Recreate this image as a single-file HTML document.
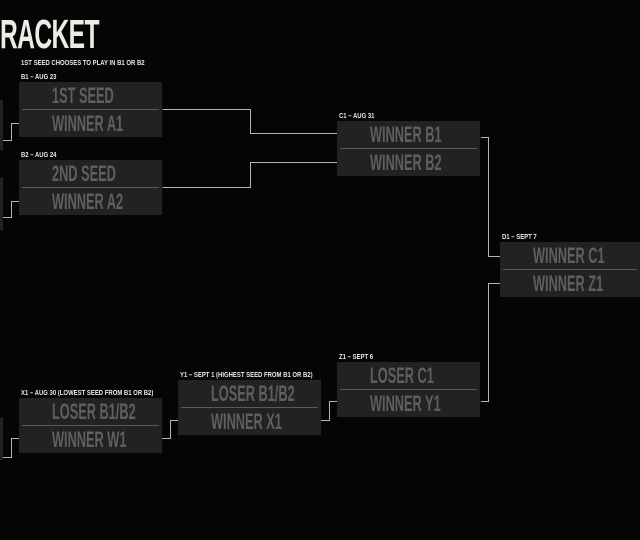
<!DOCTYPE html>
<html><head><style>
body{margin:0;background:#050505;width:640px;height:540px;overflow:hidden;position:relative;font-family:"Liberation Sans Narrow","Liberation Sans",sans-serif}
.t{position:absolute;left:0;top:11px;color:#eeeae4;font-weight:bold;font-size:41px;transform:scaleX(0.6);transform-origin:left;letter-spacing:-1px}
.lbl{position:absolute;color:#e8e8e8;font-size:7px;font-weight:bold;white-space:nowrap;transform:scaleX(0.85);transform-origin:left}
.box{position:absolute;width:143px;height:55px;background:#222}
.box div{height:27px;line-height:27px;color:#5f5f5f;font-weight:bold;font-size:22px;padding-left:33px;white-space:nowrap}
.box div span{display:inline-block;transform:scaleX(0.58);transform-origin:left}
.box div:first-child{border-bottom:1px solid #5a5a5a;margin:0 3px;padding-left:30px}
svg{position:absolute;left:0;top:0}
</style></head><body>
<div class="t">RACKET</div>
<div class="lbl" style="left:21px;top:60px">1ST SEED CHOOSES TO PLAY IN B1 OR B2</div>
<div class="lbl" style="left:21px;top:74px">B1 – AUG 23</div>
<div class="lbl" style="left:21px;top:152px">B2 – AUG 24</div>
<div class="lbl" style="left:339px;top:113px">C1 – AUG 31</div>
<div class="lbl" style="left:502px;top:234px">D1 – SEPT 7</div>
<div class="lbl" style="left:339px;top:354px">Z1 – SEPT 6</div>
<div class="lbl" style="left:180px;top:372px">Y1 – SEPT 1 (HIGHEST SEED FROM B1 OR B2)</div>
<div class="lbl" style="left:21px;top:390px">X1 – AUG 30 (LOWEST SEED FROM B1 OR B2)</div>
<div class="box" style="left:0;top:100px;width:3px;height:50px"></div>
<div class="box" style="left:0;top:178px;width:3px;height:52px"></div>
<div class="box" style="left:0;top:418px;width:3px;height:42px"></div>
<div class="box" style="left:19px;top:82px"><div><span>1ST SEED</span></div><div><span>WINNER A1</span></div></div>
<div class="box" style="left:19px;top:160px"><div><span>2ND SEED</span></div><div><span>WINNER A2</span></div></div>
<div class="box" style="left:337px;top:121px"><div><span>WINNER B1</span></div><div><span>WINNER B2</span></div></div>
<div class="box" style="left:500px;top:242px;width:140px"><div><span>WINNER C1</span></div><div><span>WINNER Z1</span></div></div>
<div class="box" style="left:337px;top:362px"><div><span>LOSER C1</span></div><div><span>WINNER Y1</span></div></div>
<div class="box" style="left:178px;top:380px"><div><span>LOSER B1/B2</span></div><div><span>WINNER X1</span></div></div>
<div class="box" style="left:19px;top:398px"><div><span>LOSER B1/B2</span></div><div><span>WINNER W1</span></div></div>
<svg width="640" height="540" fill="none" stroke="#b5b5b5" stroke-width="1">
<path d="M162.5 109.5H250.5V133.5H337"/>
<path d="M162.5 187.5H250.5V162.5H337"/>
<path d="M481 137.5H488.5V256.5H500"/>
<path d="M481 401.5H488.5V283.5H500"/>
<path d="M162 438.5H170.5V420.5H178"/>
<path d="M321 420.5H329.5V401.5H337"/>
<path d="M3 140.5H11.5V123.5H19"/>
<path d="M3 217.5H11.5V201.5H19"/>
<path d="M3 457.5H11.5V438.5H19"/>
</svg>
</body></html>
